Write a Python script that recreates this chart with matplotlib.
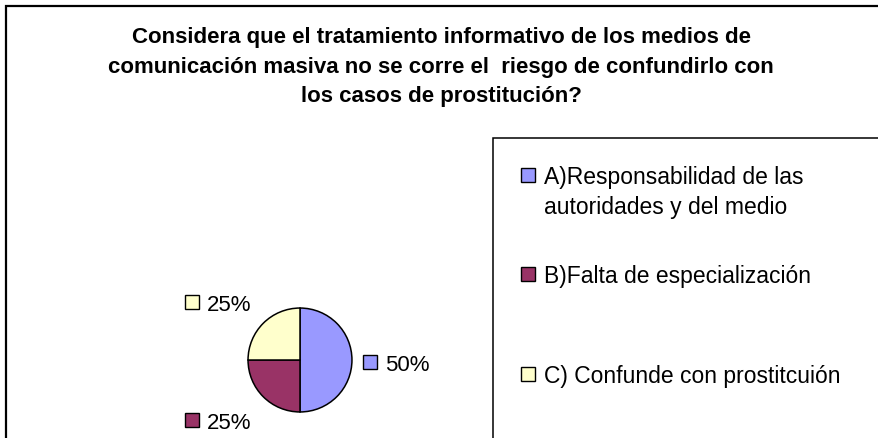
import matplotlib
matplotlib.use('Agg')
import matplotlib.pyplot as plt
from matplotlib.patches import Rectangle

plt.rcParams['font.family'] = ['Liberation Sans', 'DejaVu Sans']

# datos del gráfico
categorias = ['A)Responsabilidad de las\nautoridades y del medio',
              'B)Falta de especialización',
              'C) Confunde con prostitcuión']
valores = [50, 25, 25]
etiquetas = ['50%', '25%', '25%']
colores = ['#9999FF', '#993366', '#FFFFCC']
titulo = ['Considera que el tratamiento informativo de los medios de',
          'comunicación masiva no se corre el  riesgo de confundirlo con',
          'los casos de prostitución?']

W, H = 879, 439

# posiciones (px, desde arriba-izquierda)
pos_titulo = [43, 73, 102]
pos_etiquetas = [(370, 363), (192, 421), (192, 303)]
pos_leyenda = [176, 275, 375]


def fx(x):
    return x / W


def fy(y):
    return 1 - y / H


fig = plt.figure(figsize=(W / 100, H / 100), dpi=100)

# marco exterior
fig.add_artist(Rectangle((fx(6), -0.1), 1.2, fy(7) + 0.1,
                         transform=fig.transFigure, fill=False,
                         edgecolor='black', linewidth=1.6))
# marco de la leyenda
fig.add_artist(Rectangle((fx(493), -0.1), 1.2, fy(139) + 0.1,
                         transform=fig.transFigure, fill=False,
                         edgecolor='black', linewidth=1.1))

for yy, linea in zip(pos_titulo, titulo):
    fig.text(0.502, fy(yy), linea, ha='center', va='baseline',
             fontsize=16, fontweight='bold')

# pie
cx, cy, r = 300, 361, 53
ax = fig.add_axes([fx(cx - r), fy(cy + r), 2 * r / W, 2 * r / H])
ax.pie(valores, colors=colores, startangle=90, counterclock=False,
       radius=1.0, wedgeprops=dict(edgecolor='black', linewidth=1.1))
ax.set_xlim(-1.02, 1.02)
ax.set_ylim(-1.02, 1.02)
ax.set_aspect('equal')

for (x, y), txt, c in zip(pos_etiquetas, etiquetas, colores):
    fig.add_artist(plt.Line2D([fx(x)], [fy(y)], marker='s', markersize=10,
                              color=c, markeredgecolor='black',
                              markeredgewidth=1.0, transform=fig.transFigure))
    fig.text(fx(x + 15), fy(y + 8), txt, ha='left', va='baseline',
             fontsize=16)

# leyenda
for yy, cat, c in zip(pos_leyenda, categorias, colores):
    fig.add_artist(plt.Line2D([fx(528)], [fy(yy)], marker='s', markersize=10,
                              color=c, markeredgecolor='black',
                              markeredgewidth=1.0, transform=fig.transFigure))
    fig.text(fx(544), fy(yy - 10), cat, ha='left', va='top',
             fontsize=16.5, linespacing=1.38)

fig.savefig('out.png', dpi=100, facecolor='white')
